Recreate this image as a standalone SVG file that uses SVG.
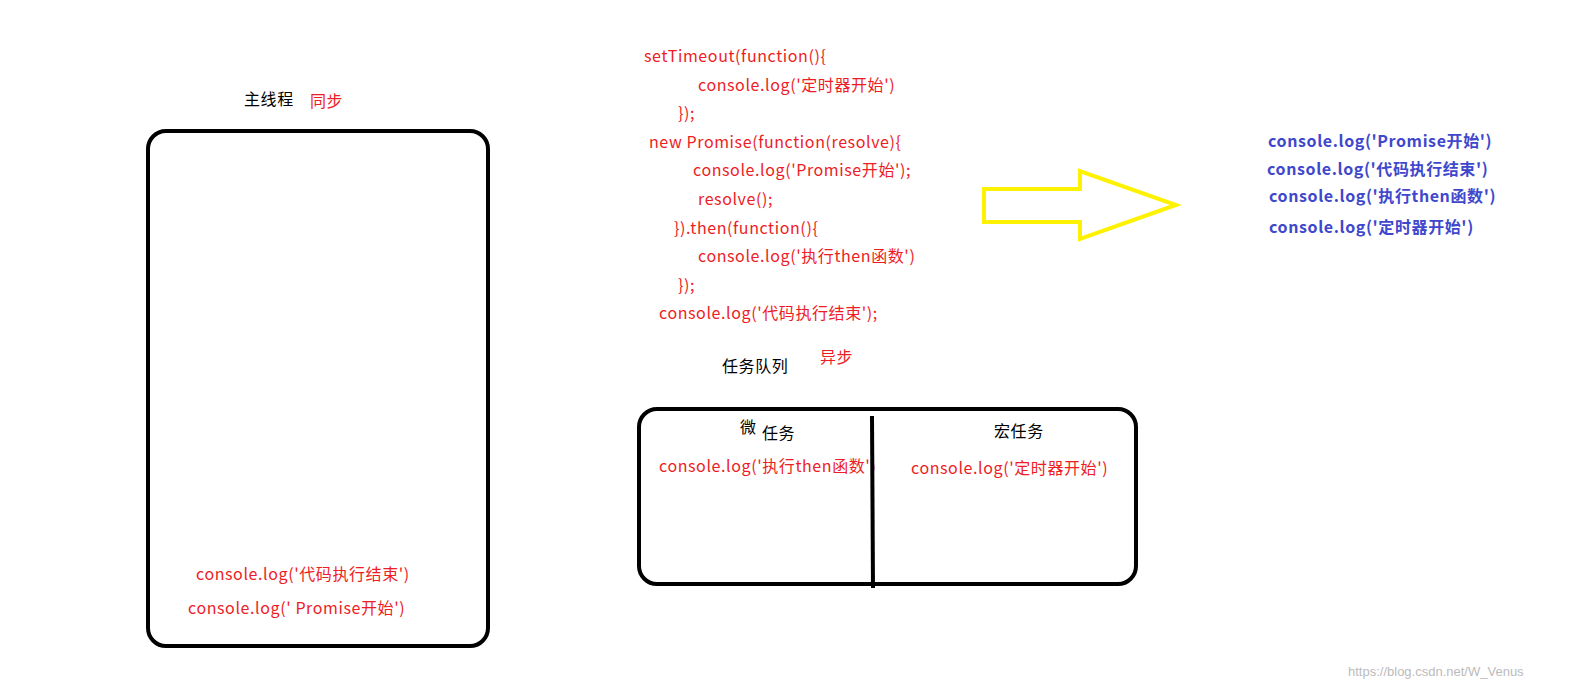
<svg xmlns="http://www.w3.org/2000/svg" width="1588" height="700" viewBox="0 0 1588 700">
<style>
text{font-family:"Microsoft YaHei","Noto Sans CJK SC",sans-serif;font-size:16px;letter-spacing:0.6px}
.r{fill:#ee1c24}
.k{fill:#000}
.b{fill:#3f48cc;font-weight:bold}
.box{fill:none;stroke:#000;stroke-width:4}
</style>
<rect width="1588" height="700" fill="#fff"/>
<g id="main-thread">
<rect class="box" x="148" y="131" width="340" height="515" rx="18"/>
<text class="k" x="244" y="105">主线程</text>
<text class="r" x="310" y="107">同步</text>
<text class="r" x="196" y="580">console.log('代码执行结束')</text>
<text class="r" x="188" y="614">console.log(' Promise开始')</text>
</g>
<g id="code">
<text class="r" x="644" y="62">setTimeout(function(){</text>
<text class="r" x="698" y="91">console.log('定时器开始')</text>
<text class="r" x="678" y="119">});</text>
<text class="r" x="649" y="148">new Promise(function(resolve){</text>
<text class="r" x="693" y="176">console.log('Promise开始');</text>
<text class="r" x="698" y="205">resolve();</text>
<text class="r" x="674" y="234">}).then(function(){</text>
<text class="r" x="698" y="262">console.log('执行then函数')</text>
<text class="r" x="678" y="291">});</text>
<text class="r" x="659" y="319">console.log('代码执行结束');</text>
</g>
<g id="task-queue">
<text class="k" x="722" y="372">任务队列</text>
<text class="r" x="820" y="363">异步</text>
<rect class="box" x="639" y="409" width="497" height="175" rx="18"/>
<text class="k" x="740" y="433">微</text>
<text class="k" x="762" y="439">任务</text>
<text class="k" x="994" y="437">宏任务</text>
<text class="r" x="659" y="472">console.log('执行then函数')</text>
<text class="r" x="911" y="474">console.log('定时器开始')</text>
</g>
<g id="connectors">
<line x1="872" y1="416" x2="873" y2="588" stroke="#000" stroke-width="4"/>
<polygon points="984,189 1080,189 1080,171 1176,205 1080,239 1080,222 984,222" fill="#fff" stroke="#fff200" stroke-width="4"/>
</g>
<g id="result">
<text class="b" x="1268" y="147">console.log('Promise开始')</text>
<text class="b" x="1267" y="175">console.log('代码执行结束')</text>
<text class="b" x="1269" y="202">console.log('执行then函数')</text>
<text class="b" x="1269" y="233">console.log('定时器开始')</text>
</g>
<text x="1348" y="676" style="font-size:13px;letter-spacing:0;fill:#bbb;font-family:'Liberation Sans',sans-serif">https://blog.csdn.net/W_Venus</text>
</svg>
